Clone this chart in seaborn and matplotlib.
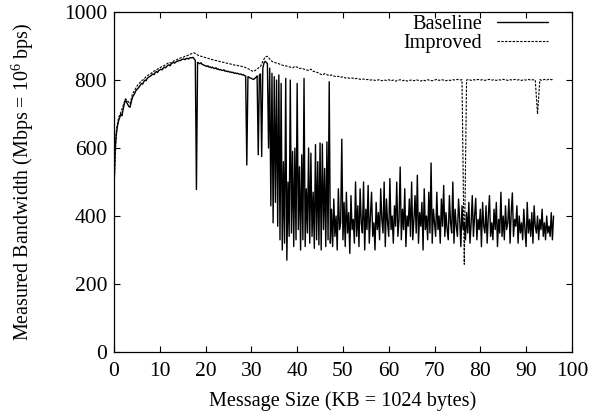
import numpy as np
import pandas as pd
import seaborn as sns
import matplotlib
matplotlib.use("Agg")
import matplotlib.pyplot as plt

# Baseline: message sizes 0 .. 96 KB in 0.25 KB steps
baseline_step = 0.25
baseline_mbps = [
    480, 600, 640, 665, 680, 690, 700, 695,
    715, 730, 742, 735, 728, 722, 720, 735,
    748, 755, 760, 768, 772, 776, 780, 785,
    790, 788, 795, 800, 798, 805, 808, 810,
    812, 815, 818, 816, 822, 825, 822, 828,
    830, 832, 830, 835, 838, 836, 840, 843,
    845, 842, 848, 850, 852, 850, 853, 855,
    856, 858, 857, 860, 861, 862, 860, 863,
    864, 862, 865, 866, 865, 867, 862, 858,
    478, 852, 850, 848, 851, 846, 845, 843,
    842, 840, 842, 838, 839, 836, 838, 835,
    834, 836, 832, 833, 830, 831, 829, 828,
    830, 826, 827, 825, 826, 823, 824, 822,
    823, 820, 821, 819, 820, 818, 817, 818,
    815, 816, 813, 812, 550, 810, 808, 806,
    805, 803, 802, 805, 808, 812, 580, 815,
    818, 575, 835, 850,
    855, 852, 848, 600, 835, 430, 820, 380,
    810, 440, 800, 370, 815, 330, 790, 300,
    560, 320, 805, 270, 500, 340, 800, 350,
    590, 310, 600, 330, 790, 360, 545, 300,
    580, 330, 805, 310, 480, 350, 600, 320,
    585, 340, 470, 305, 610, 330, 560, 315,
    615, 300, 612, 360, 540, 310, 618, 330,
    795, 320, 420, 310, 450, 340, 400, 300,
    480, 360, 380, 626, 330, 440, 310, 470,
    350, 410, 290, 460, 360, 390, 320, 500,
    340, 430, 310, 480, 380, 350, 500, 300,
    420, 360, 490, 320, 400, 470, 340, 380,
    300, 440, 360, 410, 330, 480, 390, 350,
    500, 310, 450, 380, 340, 510, 360, 400,
    320, 430, 370, 500, 340, 390, 544, 330,
    420, 360, 480, 310, 400, 370, 450, 340,
    500, 330, 390, 460, 350, 520, 320, 410,
    370, 440, 300, 480, 360, 400, 330, 470,
    350, 556, 320, 420, 380, 340, 470, 360,
    400, 320, 450, 370, 490, 340, 410, 360,
    330, 460, 380, 350, 500, 320, 420, 370,
    340, 450, 390, 310, 430, 360, 380, 330,
    410, 350, 440, 320, 380, 460, 340, 400,
    452, 330, 390, 360, 420, 310, 440, 370,
    350, 430, 320, 400, 460, 340, 380, 330,
    420, 360, 440, 310, 390, 350, 470, 340,
    400, 330, 430, 360, 380, 450, 320, 410,
    468, 340, 390, 370, 430, 320, 400, 350,
    380, 330, 420, 360, 310, 440, 350, 390,
    340, 410, 320, 430, 370, 350, 400, 330,
    390, 360, 420, 340, 380, 330, 400, 350,
    370, 340, 410, 330, 400,
]

# Improved: message sizes 0 .. 96 KB in 0.5 KB steps
improved_step = 0.5
improved_mbps = [
    480, 650, 690, 705, 725, 745, 738, 730, 758, 770,
    782, 790, 798, 802, 810, 815, 818, 825, 828, 832,
    836, 840, 843, 847, 852, 850, 856, 858, 862, 865,
    866, 870, 872, 875, 878, 880, 876, 872, 870, 868,
    866, 864, 862, 860, 858, 857, 855, 853, 852, 850,
    849, 847, 845, 844, 843, 841, 840, 838, 835, 832,
    828, 825, 830, 835, 840, 855, 868, 870, 862, 855,
    852, 850, 848, 845, 843, 842, 840, 838, 836, 840,
    838, 834, 835, 832, 830, 828, 832, 826, 824, 822,
    818, 815, 819, 816, 813, 815, 812, 810, 811, 808,
    810, 806, 807, 805, 806, 804, 805, 803, 802, 803,
    801, 802, 800, 801, 799, 800, 801, 798, 800, 799,
    801, 798, 800, 797, 799, 801, 798, 800, 797, 799,
    800, 798, 801, 799, 797, 800, 798, 801, 799, 798,
    800, 802, 799, 801, 800, 798, 800, 799, 801, 800,
    802, 800, 801, 258, 800, 802, 799, 801, 800, 802,
    800, 801, 799, 801, 802, 800, 801, 799, 801, 800,
    802, 801, 799, 801, 800, 802, 800, 801, 799, 801,
    800, 802, 800, 801, 800, 700, 801, 799, 802, 800,
    803, 801, 802,
]

x_ticks = list(range(0, 101, 10))
y_ticks = list(range(0, 1001, 200))

base = pd.DataFrame({"size": np.arange(len(baseline_mbps)) * baseline_step,
                     "bw": baseline_mbps})
impr = pd.DataFrame({"size": np.arange(len(improved_mbps)) * improved_step,
                     "bw": improved_mbps})

sns.set_theme(style="ticks")
plt.rcParams["font.family"] = ["Liberation Serif", "DejaVu Serif"]
plt.rcParams["mathtext.fontset"] = "custom"
plt.rcParams["mathtext.rm"] = "Liberation Serif"
for k in ["text.color", "axes.labelcolor", "xtick.color", "ytick.color"]:
    plt.rcParams[k] = "black"

fig = plt.figure(figsize=(5.92, 4.17), dpi=100)
ax = fig.add_axes([0.1926, 0.156, 0.7734, 0.815])

sns.lineplot(data=base, x="size", y="bw", ax=ax, color="black", lw=1.0,
             estimator=None, label="Baseline")
sns.lineplot(data=impr, x="size", y="bw", ax=ax, color="black", lw=0.8,
             estimator=None, dashes=False, label="Improved")
ax.lines[1].set_dashes((2.2, 1.2))

ax.set_xlim(0, 100)
ax.set_ylim(0, 1000)
ax.set_xticks(x_ticks)
ax.set_yticks(y_ticks)
ax.tick_params(direction="in", top=True, right=True, length=4, width=0.8,
               labelsize=15.5)
ax.tick_params(axis="x", pad=7)
ax.tick_params(axis="y", pad=5)
for s in ax.spines.values():
    s.set_linewidth(0.9)
    s.set_color("black")

ax.set_xlabel("Message Size (KB = 1024 bytes)", fontsize=14.6, labelpad=7.5)
ax.set_ylabel(r"Measured Bandwidth (Mbps = $\mathregular{10^6}$ bps)",
              fontsize=14.4, labelpad=20)

leg = ax.legend(loc="upper right", bbox_to_anchor=(0.966, 1.015),
                frameon=False, markerfirst=False, fontsize=14.6,
                handlelength=2.5, handletextpad=0.75, borderaxespad=0,
                labelspacing=0.0)
leg.get_lines()[1].set_dashes((2.2, 1.2))

fig.savefig("out.png", dpi=100)
